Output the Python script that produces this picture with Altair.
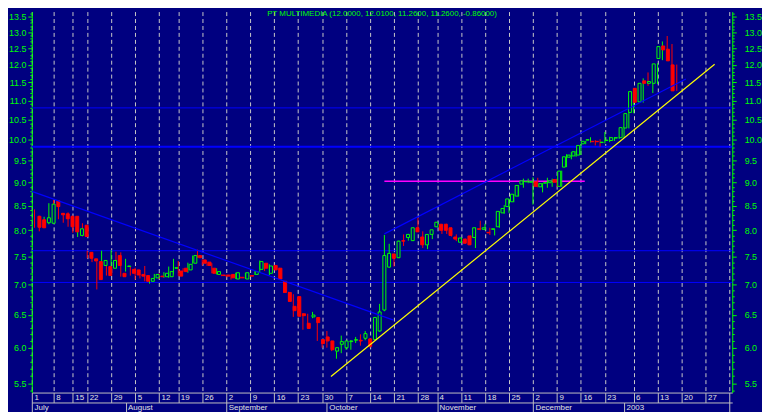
import json
import altair as alt
import pandas as pd

# ---------------- data ----------------
opens = [8.28, 8.21, 8.15, 8.14, 8.60, 8.34, 8.33, 8.28, 8.28, 7.90,
         8.10, 7.58, 7.46, 7.41, 7.34, 7.32, 7.29, 7.52, 7.20, 7.32,
         7.27, 7.26, 7.18, 7.16, 7.06, 7.12, 7.15, 7.14, 7.14, 7.29,
         7.24, 7.29, 7.26, 7.38, 7.52, 7.44, 7.40, 7.29, 7.18, 7.17,
         7.17, 7.18, 7.10, 7.13, 7.10, 7.16, 7.18, 7.27, 7.38, 7.20,
         7.34, 7.29, 7.06, 6.87, 6.64, 6.80, 6.52, 6.37, 6.47, 6.46,
         6.12, 6.16, 6.10, 5.95, 6.05, 6.00, 6.09, 6.11, 6.11, 6.14,
         6.13, 6.12, 6.25, 6.58, 7.31, 7.55, 7.48, 7.80, 7.86, 7.80,
         8.05, 7.87, 7.72, 7.92, 8.07, 8.12, 8.12, 8.05, 7.87, 7.77,
         7.83, 7.89, 7.86, 8.03, 8.02, 7.96, 8.02, 8.07, 8.35, 8.48,
         8.58, 8.70, 8.96, 9.01, 9.00, 9.01, 8.90, 8.98, 8.99, 9.06,
         8.91, 9.34, 9.57, 9.60, 9.62, 9.89, 9.98, 9.95, 9.95, 9.92,
         9.97, 9.97, 10.03, 10.04, 10.28, 10.68, 11.33, 10.96, 11.54, 11.47,
         11.47, 12.19, 12.57, 12.47, 12.00]
highs = [8.42, 8.29, 8.27, 8.55, 8.62, 8.55, 8.34, 8.36, 8.29, 8.05,
         8.14, 7.61, 7.58, 7.41, 7.61, 7.37, 7.62, 7.59, 7.58, 7.46,
         7.32, 7.30, 7.18, 7.33, 7.13, 7.19, 7.20, 7.22, 7.32, 7.46,
         7.42, 7.29, 7.39, 7.52, 7.63, 7.45, 7.41, 7.38, 7.29, 7.18,
         7.18, 7.18, 7.21, 7.14, 7.21, 7.17, 7.24, 7.43, 7.38, 7.36,
         7.35, 7.30, 7.06, 6.88, 6.84, 6.80, 6.53, 6.52, 6.55, 6.46,
         6.12, 6.25, 6.10, 6.00, 6.18, 6.10, 6.11, 6.16, 6.20, 6.25,
         6.14, 6.47, 6.68, 7.91, 7.74, 7.55, 7.80, 7.92, 7.93, 8.05,
         8.25, 7.98, 7.92, 8.01, 8.16, 8.12, 8.13, 8.05, 7.92, 7.86,
         7.84, 7.90, 8.05, 8.19, 8.13, 8.05, 8.03, 8.38, 8.51, 8.64,
         8.74, 8.94, 9.08, 9.08, 9.11, 9.10, 8.98, 9.10, 9.08, 9.07,
         9.26, 9.64, 9.69, 9.72, 9.88, 9.96, 10.05, 9.98, 10.00, 10.18,
         10.06, 10.05, 10.07, 10.32, 10.70, 11.33, 11.47, 11.61, 11.78, 11.53,
         12.05, 12.71, 12.88, 12.63, 12.01]
lows = [8.05, 7.98, 8.13, 8.12, 8.41, 8.22, 8.15, 8.07, 7.95, 7.87,
        7.88, 7.47, 7.40, 6.92, 7.30, 7.16, 7.18, 7.34, 7.14, 7.23,
        7.16, 7.09, 7.11, 7.06, 7.02, 7.11, 7.10, 7.12, 7.12, 7.18,
        7.15, 7.23, 7.21, 7.37, 7.48, 7.34, 7.33, 7.20, 7.18, 7.15,
        7.13, 7.09, 7.10, 7.11, 7.10, 7.14, 7.17, 7.22, 7.24, 7.17,
        7.26, 7.09, 6.86, 6.72, 6.47, 6.48, 6.27, 6.29, 6.45, 6.10,
        6.00, 6.00, 5.95, 5.84, 5.92, 5.97, 5.97, 6.07, 6.03, 6.11,
        6.00, 6.11, 6.24, 6.56, 7.30, 7.32, 7.48, 7.70, 7.80, 7.80,
        7.97, 7.66, 7.64, 7.83, 8.06, 7.93, 7.93, 7.88, 7.79, 7.76,
        7.75, 7.72, 7.66, 8.00, 8.00, 7.91, 7.90, 8.05, 8.33, 8.35,
        8.57, 8.69, 8.88, 8.98, 8.52, 8.89, 8.78, 8.88, 8.90, 8.90,
        8.90, 9.34, 9.52, 9.58, 9.62, 9.88, 9.92, 9.85, 9.82, 9.90,
        9.93, 9.96, 10.01, 10.03, 10.27, 10.66, 10.95, 10.94, 11.40, 11.20,
        11.45, 12.14, 12.45, 11.88, 11.26]
closes = [8.06, 8.05, 8.25, 8.53, 8.48, 8.31, 8.23, 8.07, 7.97, 8.03,
          7.88, 7.47, 7.42, 7.09, 7.43, 7.16, 7.43, 7.34, 7.14, 7.33,
          7.20, 7.17, 7.15, 7.06, 7.11, 7.18, 7.14, 7.20, 7.23, 7.30,
          7.15, 7.23, 7.36, 7.52, 7.48, 7.38, 7.34, 7.20, 7.23, 7.16,
          7.15, 7.12, 7.21, 7.12, 7.21, 7.15, 7.23, 7.41, 7.29, 7.33,
          7.26, 7.10, 6.87, 6.72, 6.57, 6.48, 6.49, 6.29, 6.50, 6.38,
          6.06, 6.10, 5.97, 6.00, 6.09, 6.10, 6.10, 6.12, 6.10, 6.21,
          6.02, 6.46, 6.55, 7.52, 7.56, 7.47, 7.79, 7.79, 7.92, 8.05,
          7.97, 7.72, 7.92, 8.01, 8.16, 8.00, 8.00, 7.90, 7.83, 7.85,
          7.75, 7.72, 8.05, 8.02, 8.05, 7.95, 8.03, 8.38, 8.44, 8.64,
          8.74, 8.93, 9.03, 9.02, 9.02, 8.91, 8.97, 8.99, 9.03, 9.00,
          9.25, 9.58, 9.62, 9.70, 9.85, 9.95, 9.99, 9.94, 9.94, 9.93,
          9.98, 10.04, 10.04, 10.29, 10.65, 11.24, 10.95, 11.47, 11.47, 11.52,
          12.03, 12.55, 12.45, 12.12, 11.26]
day_index = list(range(len(opens)))

week_ticks = [-0.5, 4, 8, 11, 16, 21, 26, 30, 35, 40, 45, 50, 55, 60, 65, 70,
              75, 80, 84, 89, 94, 99, 104, 109, 114, 119, 125, 130, 135, 140, 145]
week_labels = ["1", "8", "15", "22", "29", "5", "12", "19", "26", "2", "9", "16",
               "23", "30", "7", "14", "21", "28", "4", "11", "18", "25", "2", "9",
               "16", "23", "6", "13", "20", "27", ""]
month_ticks = [-0.5, 19, 40, 61, 84, 104, 123, 145]
month_labels = ["July", "August", "September", "October", "November",
                "December", "2003", ""]

hline_values = [10.80, 9.82, 7.61, 7.04]
hline_widths = [1, 2, 1, 1]

magenta_x = [73, 114.8]
magenta_value = 9.02

trend_names = ["down", "down", "up", "up", "support", "support"]
trend_index = [-0.56, 74.9, 73.0, 135.9, 61.85, 141.9]
trend_values = [8.80, 6.42, 7.93, 11.59, 5.59, 12.02]

title_text = "PT MULTIMEDIA (12.0000, 12.0100, 11.2600, 11.2600, -0.86000)"

# ---------------- styling ----------------
NAVY = "#000080"
GREEN = "#00ff00"
RED = "#ff0000"
YELLOW = "#ffff00"
BLUE = "#0000ff"
MAGENTA = "#ff00ff"
GRID = "#c8c8c8"
AXGRAY = "#c0c0c0"
FONT = "Liberation Sans"

candles = pd.DataFrame({"i": day_index, "open": opens, "high": highs,
                        "low": lows, "close": closes})
hl = pd.DataFrame({"v": hline_values, "w": hline_widths})
mag = pd.DataFrame({"x1": [magenta_x[0]], "x2": [magenta_x[1]], "v": [magenta_value]})
trend = pd.DataFrame({"name": trend_names, "i": trend_index, "v": trend_values})

XS = alt.Scale(domain=[-0.56, 145.57], nice=False, zero=False)
YS = alt.Scale(type="log", domain=[5.375, 13.675], nice=False)

ytick_values = [round(5.4 + 0.1 * k, 1) for k in range(83)]
major_test = "abs(datum.value * 2 - round(datum.value * 2)) < 0.01"
ylabel_expr = f"{major_test} ? format(datum.value, '.1f') : ''"


def y_axis(orient, pad):
    return alt.Axis(
        orient=orient, values=ytick_values, labelExpr=ylabel_expr,
        tickSize={"condition": {"test": major_test, "value": 4}, "value": 2},
        tickColor=GREEN, domainColor=GREEN, labelColor=GREEN, domainWidth=1,
        labelFont=FONT, labelFontSize=9, labelPadding=pad, title=None,
        grid=False, labelOverlap=False, labelFlush=False,
    )


week_expr = f"{json.dumps(week_labels)}[indexof({json.dumps(week_ticks)}, datum.value)]"
month_expr = f"{json.dumps(month_labels)}[indexof({json.dumps(month_ticks)}, datum.value)]"

day_axis = alt.Axis(
    orient="bottom", values=week_ticks, labelExpr=week_expr, grid=True,
    gridColor=GRID, gridDash=[4, 3], gridWidth=1, tickSize=10, tickColor=AXGRAY,
    domainColor=AXGRAY, labelColor="#e0e0e0", labelFont=FONT, labelFontSize=8,
    labelAlign="left", labelBaseline="top", labelPadding=-9, labelOffset=2,
    labelOverlap=False, labelFlush=False, title=None,
)
month_axis = alt.Axis(
    orient="bottom", offset=10, values=month_ticks, labelExpr=month_expr,
    grid=False, tickSize=10, tickColor=AXGRAY, domainColor=AXGRAY,
    labelColor="#e0e0e0", labelFont=FONT, labelFontSize=8, labelAlign="left",
    labelBaseline="top", labelPadding=-9, labelOffset=2, labelOverlap=False,
    labelFlush=False, title=None,
)

up = "datum.close >= datum.open"

hlines = alt.Chart(hl).mark_rule(color=BLUE).encode(
    y=alt.Y("v:Q", scale=YS, axis=y_axis("right", 8)),
    strokeWidth=alt.StrokeWidth("w:Q", scale=None, legend=None),
)

magenta = alt.Chart(mag).mark_rule(color=MAGENTA, strokeWidth=1.5).encode(
    x=alt.X("x1:Q", scale=XS, axis=month_axis),
    x2="x2:Q",
    y=alt.Y("v:Q", scale=YS, axis=None),
)

wicks = alt.Chart(candles).mark_rule(strokeWidth=1).encode(
    x=alt.X("i:Q", scale=XS, axis=day_axis),
    y=alt.Y("low:Q", scale=YS, axis=y_axis("left", 2)),
    y2="high:Q",
    color=alt.condition(up, alt.value(GREEN), alt.value(RED)),
)

bodies = alt.Chart(candles).mark_bar(size=3, strokeWidth=1).encode(
    x=alt.X("i:Q", scale=XS, axis=None),
    y=alt.Y("open:Q", scale=YS, axis=None),
    y2="close:Q",
    fill=alt.condition(up, alt.value(NAVY), alt.value(RED)),
    stroke=alt.condition(up, alt.value(GREEN), alt.value(RED)),
)

trends = alt.Chart(trend).mark_line(strokeWidth=1.2).encode(
    x=alt.X("i:Q", scale=XS, axis=None),
    y=alt.Y("v:Q", scale=YS, axis=None),
    detail="name:N",
    color=alt.Color("name:N", scale=alt.Scale(domain=["down", "up", "support"],
                                              range=[BLUE, BLUE, YELLOW]), legend=None),
)

chart = (
    alt.layer(hlines, magenta, wicks, bodies, trends)
    .resolve_scale(x="independent", y="independent", color="independent")
    .properties(
        width=706, height=384,
        title=alt.TitleParams(title_text, color=GREEN, font=FONT, fontSize=8,
                              fontWeight="normal", anchor="middle", offset=-8),
    )
    .configure(background=NAVY, padding={"left": 0, "top": 0, "right": 0, "bottom": 0})
    .configure_view(stroke=None)
)

chart.save("out.html", embed_options={"renderer": "svg", "actions": False})
